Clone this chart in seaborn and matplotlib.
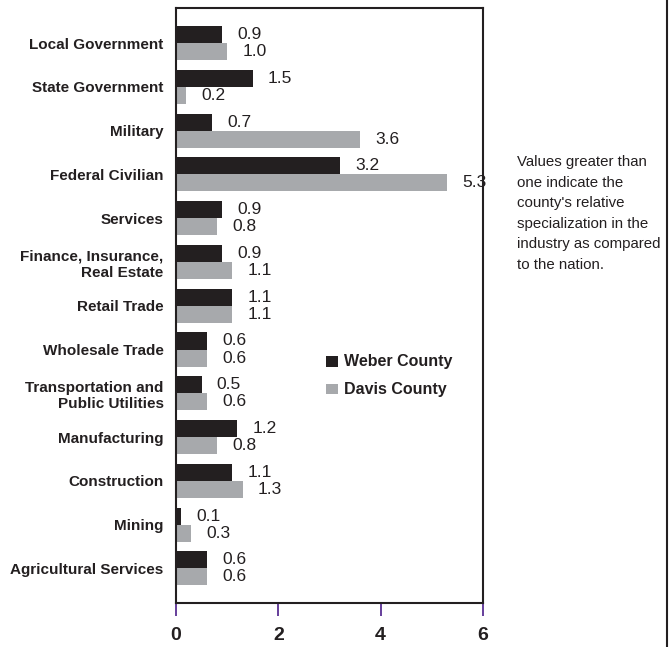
import pandas as pd
import seaborn as sns
import matplotlib.pyplot as plt
from matplotlib.lines import Line2D

industries = [
    "Local Government", "State Government", "Military", "Federal Civilian",
    "Services", "Finance, Insurance,\nReal Estate", "Retail Trade",
    "Wholesale Trade", "Transportation and\nPublic Utilities", "Manufacturing",
    "Construction", "Mining", "Agricultural Services",
]
weber = [0.9, 1.5, 0.7, 3.2, 0.9, 0.9, 1.1, 0.6, 0.5, 1.2, 1.1, 0.1, 0.6]
davis = [1.0, 0.2, 3.6, 5.3, 0.8, 1.1, 1.1, 0.6, 0.6, 0.8, 1.3, 0.3, 0.6]
counties = ["Weber County", "Davis County"]
colors = ["#231f20", "#a7a9ac"]
xticks = [0, 2, 4, 6]

note = ("Values greater than\none indicate the\ncounty's relative\n"
        "specialization in the\nindustry as compared\nto the nation.")

df = pd.DataFrame({
    "industry": industries * 2,
    "value": weber + davis,
    "county": [counties[0]] * len(weber) + [counties[1]] * len(davis),
})

sns.set_style("white")
plt.rcParams["font.family"] = ["Liberation Sans", "DejaVu Sans"]

fig = plt.figure(figsize=(6.71, 6.47), dpi=100)
ax = fig.add_axes([0.2623, 0.068, 0.4575, 0.9196])

sns.barplot(data=df, y="industry", x="value", hue="county", palette=colors,
            orient="h", width=0.78, saturation=1, ax=ax, errorbar=None,
            linewidth=0)

for cont in ax.containers:
    ax.bar_label(cont, fmt="%.1f", padding=11, fontsize=12.5, color="#231f20")

ax.set_xlim(0, 6)
ax.set_ylim(12.79, -0.8)
ax.set_xticks(xticks)
ax.set_xticklabels([str(t) for t in xticks], fontsize=14, fontweight="bold",
                   color="#231f20")
ax.tick_params(axis="x", direction="out", length=9, width=1.2,
               color="#4b1e8a", pad=8, bottom=True)
ax.tick_params(axis="y", length=0, pad=9)
for lab in ax.get_yticklabels():
    lab.set_fontsize(11)
    lab.set_fontweight("bold")
    lab.set_color("#231f20")
ax.set_xlabel("")
ax.set_ylabel("")
for sp in ax.spines.values():
    sp.set_visible(True)
    sp.set_color("#231f20")
    sp.set_linewidth(1.5)

leg = ax.legend(loc="upper left", bbox_to_anchor=(0.49, 0.418), frameon=False,
                handlelength=0.8, handleheight=0.8, handletextpad=0.5,
                labelspacing=0.9, borderpad=0, borderaxespad=0)
for t in leg.get_texts():
    t.set_fontsize(11.5)
    t.set_fontweight("bold")
    t.set_color("#231f20")

fig.text(517 / 671, 1 - 155 / 647, note, ha="left", va="top", fontsize=10.8,
         linespacing=1.6, color="#231f20")
fig.add_artist(Line2D([667 / 671, 667 / 671], [0, 1], color="#231f20",
                      linewidth=1.5, transform=fig.transFigure))

fig.savefig("out.png", dpi=100)
